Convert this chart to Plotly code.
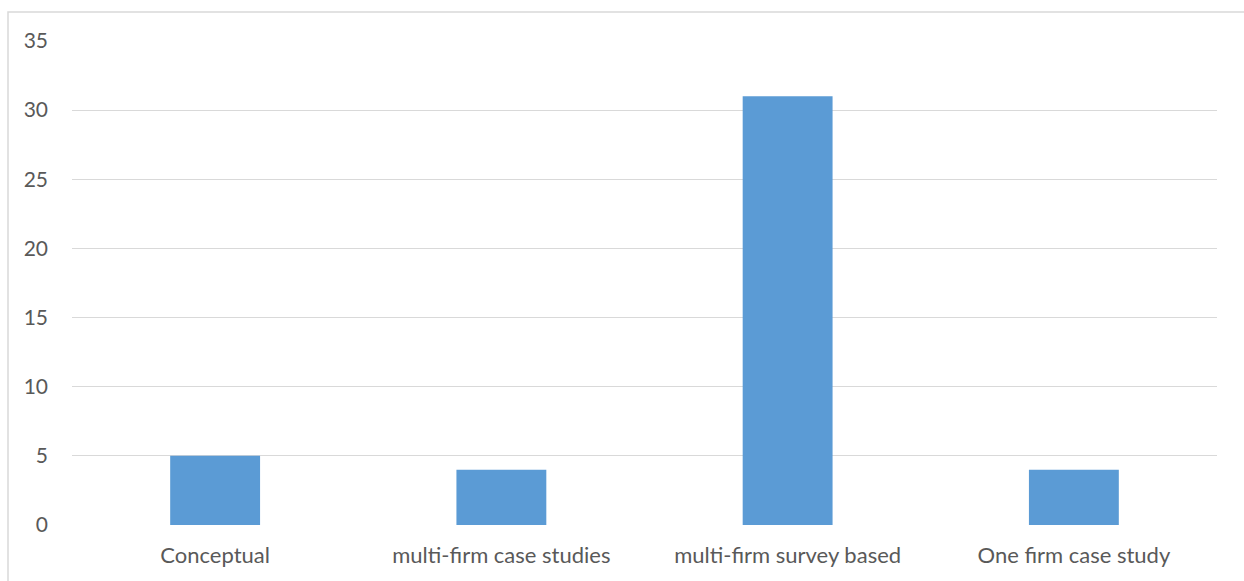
import plotly.graph_objects as go

categories = ["Conceptual", "multi-firm case studies", "multi-firm survey based", "One firm case study"]
counts = [5, 4, 31, 4]
y_ticks = [0, 5, 10, 15, 20, 25, 30, 35]

W, H = 1244, 581
L, R, T, B = 72, 27, 40.5, 55.5
pw, ph = W - L - R, H - T - B

FONT = "Lato, Open Sans, Liberation Sans, sans-serif"
TEXT = "#595959"

fig = go.Figure(
    go.Bar(
        x=categories,
        y=counts,
        marker=dict(color="#5b9bd5", line=dict(width=0)),
        hoverinfo="x+y",
    )
)

fig.update_layout(
    width=W,
    height=H,
    margin=dict(l=L, r=R, t=T, b=B),
    paper_bgcolor="white",
    plot_bgcolor="white",
    bargap=0.686,
    showlegend=False,
    font=dict(family=FONT, size=22, color=TEXT),
    xaxis=dict(
        showgrid=False,
        zeroline=False,
        showline=False,
        ticks="",
        ticklabelstandoff=15,
        tickfont=dict(family=FONT, size=22, color=TEXT),
    ),
    yaxis=dict(
        range=[0, 35],
        tickvals=y_ticks,
        showgrid=True,
        gridcolor="#d9d9d9",
        gridwidth=1,
        zeroline=False,
        showline=False,
        ticks="",
        ticklabelstandoff=23,
        tickfont=dict(family=FONT, size=21, color=TEXT),
    ),
)

# chart frame (runs off the right and bottom edges)
x0 = (8 - L) / pw
y1 = 1 + (T - 11.5) / ph
fig.add_shape(
    type="rect", xref="paper", yref="paper",
    x0=x0, x1=1.2, y0=-0.3, y1=y1,
    line=dict(color="#d9d9d9", width=1.5),
    fillcolor="rgba(0,0,0,0)", layer="below",
)

fig.write_html("out.html")
